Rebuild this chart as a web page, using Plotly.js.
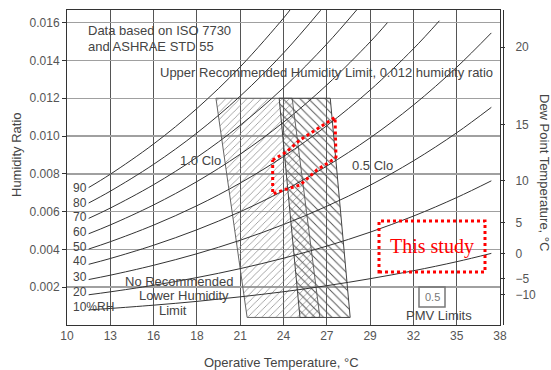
<!DOCTYPE html>
<html><head><meta charset="utf-8">
<script src="https://cdn.plot.ly/plotly-3.0.1.min.js"></script>
<style>html,body{margin:0;padding:0;background:#fff}#chart{width:551px;height:370px}</style>
</head><body><div id="chart"></div>
<script>
// ---- axis ticks (x axis is linear in °F, labelled in °C) ----
const tickF = [50,55,60,65,70,75,80,85,90,95,100];
const tickC = ['10','13','16','18','21','24','27','29','32','35','38'];
const yTickVals = [0.002,0.004,0.006,0.008,0.010,0.012,0.014,0.016];
const yTickText = ['0.002','0.004','0.006','0.008','0.010','0.012','0.014','0.016'];
// dew point scale (right axis) : humidity ratio at each dew point
const dewW = [0.0016,0.00247,0.00379,0.00542,0.00763,0.0106,0.0147];
const dewText = ['\u221210','\u22125','0','5','10','15','20'];

// ---- relative humidity curves (°F, humidity ratio) ----
const tBase = [52.5,55,60,65,70,75,80,85,90,95,99];
const rh10 = [0.0008,0.000876,0.00105,0.00125,0.00149,0.00176,0.00208,0.00245,0.00287,0.00335,0.00379];
const rh20 = [0.0016,0.001755,0.002103,0.002509,0.002983,0.003535,0.004175,0.004912,0.005763,0.006744,0.00763];
const rh30 = [0.002405,0.002636,0.00316,0.003771,0.004485,0.005317,0.006285,0.007397,0.008686,0.010172,0.011519];
const rh40 = [0.003211,0.00352,0.004221,0.005039,0.005995,0.007111,0.008409,0.009904,0.011637,0.013641,0.015458];
const t50 = [52.5,55,60,65,70,75,80,85,90,93];
const rh50 = [0.004019,0.004407,0.005286,0.006312,0.007512,0.008915,0.010548,0.012431,0.014617,0.0161];
const t60 = [52.5,55,60,65,70,75,80,85,87];
const rh60 = [0.004829,0.005296,0.006354,0.00759,0.009037,0.01073,0.012702,0.014979,0.0160];
const t70 = [52.5,55,60,65,70,75,80,83.5];
const rh70 = [0.005642,0.006188,0.007426,0.008874,0.01057,0.012556,0.014872,0.0167];
const t80 = [52.5,55,60,65,70,75,79.3];
const rh80 = [0.006456,0.007082,0.008502,0.010163,0.012111,0.014393,0.01666];
const t90 = [52.5,55,60,65,70,75,75.8];
const rh90 = [0.007274,0.007979,0.009581,0.011458,0.013658,0.016239,0.0167];
const rhLabels = ['90','80','70','60','50','40','30','20','10%RH'];

// ---- comfort zones (°F, humidity ratio) ----
const winterF = [67.2,76.0,79.2,70.8,67.2];
const winterW = [0.012,0.012,0.0004,0.0004,0.012];
const summerF = [74.5,80.4,82.7,76.9,74.5];
const summerW = [0.012,0.012,0.0004,0.0004,0.012];
// ---- this study zone ----
const studyF = [73.75,75.37,76.91,78.84,80.95,81.06,80.95,78.84,76.91,74.98,73.75,73.75];
const studyW = [0.00873,0.00917,0.00979,0.01035,0.01099,0.00889,0.00882,0.0082,0.00741,0.00714,0.00693,0.00873];

const FONT = 'Liberation Sans, Arial, sans-serif';
const TXT = '#444';
const LINE = '#333';

const curves = [[tBase,rh10],[tBase,rh20],[tBase,rh30],[tBase,rh40],[t50,rh50],[t60,rh60],[t70,rh70],[t80,rh80],[t90,rh90]];
const traces = [];
traces.push({x:winterF,y:winterW,mode:'lines',fill:'toself',fillcolor:'rgba(0,0,0,0)',
  fillpattern:{shape:'/',size:5,solidity:0.15,fgcolor:'#8a8a8a',bgcolor:'rgba(0,0,0,0)'},
  line:{color:'#666',width:1},hoverinfo:'skip',showlegend:false});
traces.push({x:summerF,y:summerW,mode:'lines',fill:'toself',fillcolor:'rgba(0,0,0,0)',
  fillpattern:{shape:'\\',size:6,solidity:0.16,fgcolor:'#555',bgcolor:'rgba(0,0,0,0)'},
  line:{color:'#444',width:1},hoverinfo:'skip',showlegend:false});
curves.forEach(c=>traces.push({x:c[0],y:c[1],mode:'lines',line:{color:LINE,width:1,shape:'spline'},hoverinfo:'skip',showlegend:false}));
traces.push({x:studyF,y:studyW,mode:'lines',line:{color:'#ff0000',width:3,dash:'dot'},hoverinfo:'skip',showlegend:false});
traces.push({x:[50],y:[0],yaxis:'y2',mode:'markers',marker:{opacity:0},hoverinfo:'skip',showlegend:false});

const X = px => (px-67)/433;
const Y = py => (325-py)/315;
function ann(text, px, py, o){
  return Object.assign({text:text,x:X(px),y:Y(py),xref:'paper',yref:'paper',showarrow:false,
    font:{family:FONT,size:13,color:TXT},xanchor:'center',yanchor:'middle'}, o||{});
}
const rhLabelY = [188,203,217,232,247,261,277,292,307];
const annotations = [
  ann('Data based on ISO 7730',86,30,{xanchor:'left'}),
  ann('and ASHRAE STD 55',86,46,{xanchor:'left'}),
  ann('Upper Recommended Humidity Limit, 0.012 humidity ratio',326.5,72),
  ann('1.0 Clo',200.5,160),
  ann('0.5 Clo',372.5,165),
  ann('No Recommended',178.5,281),
  ann('Lower Humidity',183.5,295),
  ann('Limit',173,310),
  ann('PMV Limits',438.5,315),
  ann('0.5',432,297,{font:{family:FONT,size:11,color:'#777'}}),
  ann('This study',432,246,{font:{family:'Liberation Serif, Times New Roman, serif',size:20,color:'#ff0000'}}),
  ann('Humidity Ratio',16,155,{textangle:-90}),
  ann('Operative Temperature, \u00b0C',281.5,362),
  ann('Dew Point Temperature, \u00b0C',544,172,{textangle:90})
];
rhLabels.forEach((t,i)=>annotations.push(ann(t,71,rhLabelY[i],{xanchor:'left',font:{family:FONT,size:12,color:TXT}})));

const shapes = [
  {type:'line',xref:'paper',yref:'paper',x0:X(503.5),x1:X(503.5),y0:0,y1:1,line:{color:LINE,width:1}},
  {type:'rect',xref:'paper',yref:'paper',x0:X(419),x1:X(445),y0:Y(307),y1:Y(287),line:{color:'#777',width:1.5}},
  {type:'rect',xref:'paper',yref:'paper',x0:X(379),x1:X(485),y0:Y(272),y1:Y(221),line:{color:'#ff0000',width:3,dash:'dot'}}
];

const layout = {
  width:551,height:370,margin:{l:67,r:51,t:10,b:45},
  paper_bgcolor:'#fff',plot_bgcolor:'#fff',showlegend:false,
  font:{family:FONT,size:12,color:'#555'},
  xaxis:{range:[50,100],tickmode:'array',tickvals:tickF,ticktext:tickC,showgrid:true,gridcolor:'#555',gridwidth:1,
    zeroline:false,showline:true,mirror:true,linecolor:LINE,linewidth:1,ticks:'',tickfont:{family:FONT,size:12,color:'#555'}},
  yaxis:{range:[0,0.01667],tickmode:'array',tickvals:yTickVals,ticktext:yTickText,showgrid:true,gridcolor:'#a0a0a0',gridwidth:1.5,
    zeroline:false,showline:true,mirror:true,linecolor:LINE,linewidth:1,ticks:'outside',ticklen:4,tickcolor:LINE,
    tickfont:{family:FONT,size:12,color:'#555'}},
  yaxis2:{overlaying:'y',side:'right',range:[0,0.01667],tickmode:'array',tickvals:dewW,ticktext:dewText,showgrid:false,
    zeroline:false,showline:false,ticks:'outside',ticklen:4,tickcolor:LINE,ticklabelstandoff:8,
    tickfont:{family:FONT,size:12,color:'#555'}},
  annotations:annotations,shapes:shapes
};
Plotly.newPlot('chart',traces,layout,{staticPlot:true,displayModeBar:false});
</script></body></html>
